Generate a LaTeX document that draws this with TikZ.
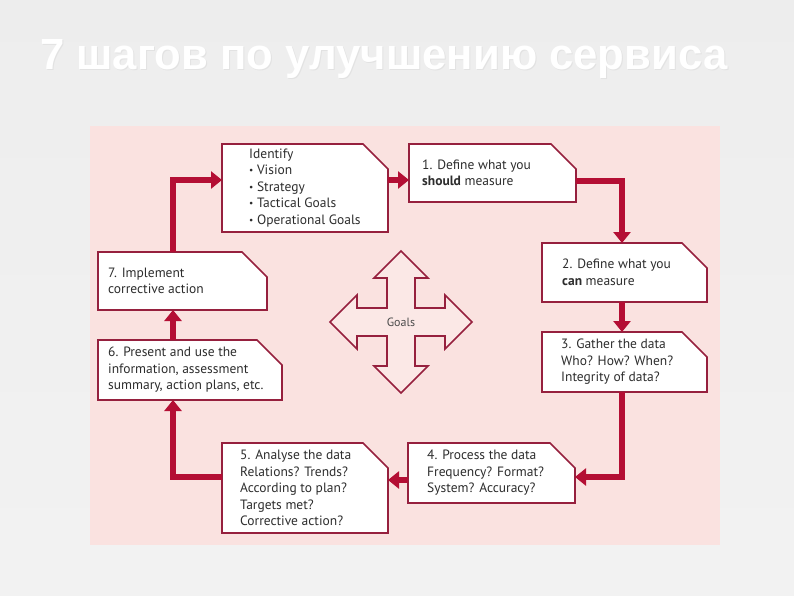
\documentclass[tikz,border=0pt]{standalone}
\usepackage{graphicx}
\usepackage{fontspec}
\setmainfont{PT Sans}
\newfontfamily\titlefont{Liberation Sans}
\usetikzlibrary{arrows.meta,calc}
\definecolor{panel}{RGB}{250,226,224}
\definecolor{conn}{RGB}{180,14,52}
\definecolor{frame}{RGB}{150,32,62}
\definecolor{txt}{RGB}{45,45,45}
\tikzset{
  boxshape/.style={draw=none,inner sep=0pt,outer sep=0pt,rectangle},
  boxframe/.style={draw=frame,line width=1.6pt,fill=white,line join=miter},
  boxshadow/.style={fill=black,opacity=0.15},
  boxtext/.style={inner sep=0pt,align=left,text=txt,font=\fontsize{13.5}{16.5}\selectfont,anchor=west},
  conn/.style={draw=conn,line width=6pt,-{Triangle[width=17pt,length=11pt]}},
  goalsframe/.style={draw=frame,line width=1.6pt,fill=panel!80!white,line join=miter}
}
\newcommand\mkbox[7]{%
  \node[boxshape,minimum width=#4-#2,minimum height=#5-#3] (#1) at ({(#2+#4)/2},{(#3+#5)/2}) {};
  \fill[boxshadow,xshift=2pt,yshift=-2pt] (#1.north west) -- ([xshift=-25pt]#1.north east) -- ([yshift=-25pt]#1.north east) -- (#1.south east) -- (#1.south west) -- cycle;
  \draw[boxframe] (#1.north west) -- ([xshift=-25pt]#1.north east) -- ([yshift=-25pt]#1.north east) -- (#1.south east) -- (#1.south west) -- cycle;
  \node[boxtext] (#1t) at ([xshift=#6pt]#1.west) {#7};
}
\newcommand\bul{\raisebox{0.15ex}{\scalebox{0.7}{•}}\ }
\begin{document}
\begin{tikzpicture}[x=1pt,y=-1pt]
\shade[top color=black!7,middle color=black!11,bottom color=black!5] (0,0) rectangle (794,595);
\useasboundingbox (0,0) rectangle (794,595);
% title
\node[anchor=base west,inner sep=0pt,text=black!20,opacity=0.35] (titleshadow) at (41,70) {\resizebox{687pt}{30pt}{\titlefont\bfseries 7 шагов по улучшению сервиса}};
\node[anchor=base west,inner sep=0pt,text=white] (title) at (40,69) {\resizebox{687pt}{30pt}{\titlefont\bfseries 7 шагов по улучшению сервиса}};
% panel
\fill[panel] (90,126) rectangle (720,545);
% goals
\begin{scope}[shift={(401,322)}]
\draw[goalsframe] (0,71) -- (27,44) -- (14,44) -- (14,14) -- (44,14) -- (44,27) -- (71,0) -- (44,-27) -- (44,-14) -- (14,-14) -- (14,-44) -- (27,-44) -- (0,-71) -- (-27,-44) -- (-14,-44) -- (-14,-14) -- (-44,-14) -- (-44,-27) -- (-71,0) -- (-44,27) -- (-44,14) -- (-14,14) -- (-14,44) -- (-27,44) -- cycle;
\node[text=black!70,font=\fontsize{12}{14}\selectfont] (goals) at (0,0) {Goals};
\end{scope}
% boxes
\mkbox{id}{222}{144}{388}{232}{27}{Identify\\\bul Vision\\\bul Strategy\\\bul Tactical Goals\\\bul Operational Goals}
\mkbox{b1}{409}{144}{576}{202}{13}{1. Define what you\\\textbf{should} measure}
\mkbox{b2}{542}{243}{707}{302}{20}{2. Define what you\\\textbf{can} measure}
\mkbox{b3}{542}{332}{707}{392}{19}{3. Gather the data\\Who? How? When?\\Integrity of data?}
\mkbox{b4}{408}{443}{575}{503}{19}{4. Process the data\\Frequency? Format?\\System? Accuracy?}
\mkbox{b5}{222}{443}{388}{533}{18}{5. Analyse the data\\Relations? Trends?\\According to plan?\\Targets met?\\Corrective action?}
\mkbox{b6}{98}{340}{282}{400}{10}{6. Present and use the\\information, assessment\\summary, action plans, etc.}
\mkbox{b7}{98}{252}{267}{310}{10}{7. Implement\\corrective action}
% connectors
\draw[conn] ([xshift=75pt]b7.north west) |- ([yshift=8pt]id.west);
\draw[conn] ([yshift=8pt]id.east) -- ([yshift=8pt]id.east -| b1.west);
\draw[conn] ([yshift=-8pt]b1.east) -| ([xshift=-2.5pt]b2.north);
\draw[conn] ([xshift=-2.5pt]b2.south) -- ([xshift=-2.5pt]b3.north);
\draw[conn] ([xshift=-2.5pt]b3.south) |- ([yshift=-4pt]b4.east);
\draw[conn] ([yshift=-7pt]b4.west) -- ([yshift=-7pt]b4.west -| b5.east);
\draw[conn] ([yshift=11pt]b5.west) -| ([xshift=-17pt]b6.south);
\draw[conn] ([xshift=-17pt]b6.north) -- ([xshift=-17pt]b6.north |- b7.south);
\end{tikzpicture}
\end{document}
